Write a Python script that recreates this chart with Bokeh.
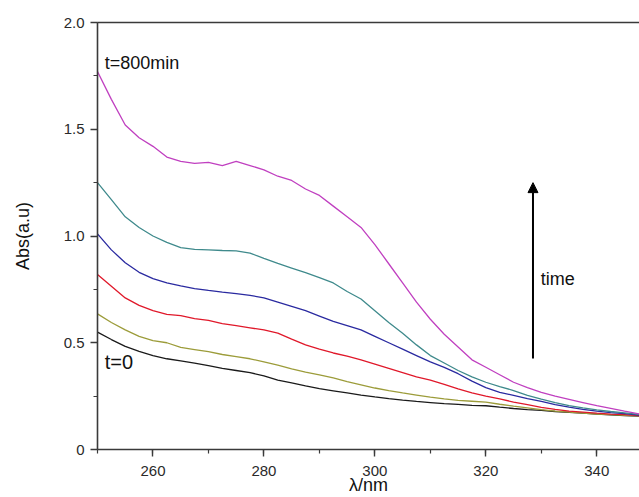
from bokeh.plotting import figure
from bokeh.models import (Range1d, SingleIntervalTicker, FixedTicker, LinearAxis,
                          Label, Arrow, NormalHead)
from bokeh.embed import file_html
from bokeh.resources import INLINE

# ---------------- data ----------------
wavelength = [250, 252.5, 255, 257.5, 260, 262.5, 265, 267.5, 270, 272.5,
              275, 277.5, 280, 282.5, 285, 287.5, 290, 292.5, 295, 297.5,
              300, 302.5, 305, 307.5, 310, 312.5, 315, 317.5, 320, 322.5,
              325, 327.5, 330, 332.5, 335, 337.5, 340, 342.5, 345, 348]

abs_t0 = [0.55, 0.515, 0.483, 0.46, 0.44, 0.425, 0.415, 0.405, 0.393, 0.38,
          0.37, 0.36, 0.345, 0.325, 0.312, 0.298, 0.285, 0.275, 0.265, 0.255,
          0.246, 0.238, 0.231, 0.225, 0.22, 0.215, 0.211, 0.207, 0.205, 0.198,
          0.192, 0.187, 0.183, 0.178, 0.174, 0.17, 0.166, 0.162, 0.159, 0.156]

abs_t1 = [0.635, 0.595, 0.56, 0.53, 0.51, 0.50, 0.478, 0.468, 0.458, 0.445,
          0.435, 0.425, 0.41, 0.395, 0.378, 0.362, 0.35, 0.335, 0.318, 0.303,
          0.288, 0.276, 0.265, 0.255, 0.245, 0.237, 0.23, 0.226, 0.222, 0.212,
          0.203, 0.195, 0.187, 0.18, 0.175, 0.17, 0.166, 0.163, 0.16, 0.157]

abs_t2 = [0.82, 0.765, 0.71, 0.675, 0.65, 0.633, 0.627, 0.613, 0.605, 0.59,
          0.58, 0.57, 0.56, 0.545, 0.517, 0.49, 0.47, 0.452, 0.437, 0.42,
          0.40, 0.38, 0.36, 0.34, 0.325, 0.305, 0.284, 0.265, 0.25, 0.237,
          0.222, 0.21, 0.197, 0.188, 0.18, 0.175, 0.17, 0.166, 0.163, 0.158]

abs_t3 = [1.01, 0.935, 0.875, 0.83, 0.80, 0.78, 0.766, 0.754, 0.745, 0.737,
          0.73, 0.722, 0.71, 0.69, 0.67, 0.65, 0.625, 0.60, 0.58, 0.56,
          0.53, 0.50, 0.47, 0.44, 0.41, 0.385, 0.355, 0.32, 0.29, 0.268,
          0.253, 0.238, 0.225, 0.21, 0.198, 0.188, 0.18, 0.173, 0.168, 0.16]

abs_t4 = [1.25, 1.17, 1.09, 1.04, 1.0, 0.97, 0.946, 0.937, 0.935, 0.932,
          0.93, 0.92, 0.895, 0.872, 0.85, 0.828, 0.805, 0.78, 0.74, 0.705,
          0.65, 0.595, 0.545, 0.49, 0.44, 0.405, 0.37, 0.34, 0.315, 0.295,
          0.276, 0.253, 0.236, 0.22, 0.205, 0.195, 0.186, 0.178, 0.172, 0.163]

abs_t800 = [1.77, 1.64, 1.52, 1.46, 1.42, 1.37, 1.35, 1.34, 1.345, 1.33,
            1.35, 1.33, 1.31, 1.28, 1.26, 1.22, 1.19, 1.14, 1.09, 1.04,
            0.96, 0.87, 0.78, 0.69, 0.61, 0.54, 0.48, 0.42, 0.385, 0.35,
            0.315, 0.29, 0.268, 0.25, 0.235, 0.22, 0.205, 0.193, 0.18, 0.165]

series = [abs_t0, abs_t1, abs_t2, abs_t3, abs_t4, abs_t800]
colors = ["#1a1a1a", "#9c9c3a", "#e0182a", "#2a2aa0", "#3f8a8c", "#c040c0"]

y_tick_labels = {0: "0", 0.5: "0.5", 1: "1.0", 1.5: "1.5", 2: "2.0"}
x_label = "λ/nm"
y_label = "Abs(a.u)"

FONT = "Liberation Sans"

p = figure(width=639, height=497, output_backend="svg", toolbar_location=None,
           x_range=Range1d(250, 347.7), y_range=Range1d(0, 2.0),
           min_border_left=97, min_border_right=0, min_border_top=22,
           min_border_bottom=48)
p.outline_line_color = None
p.xgrid.visible = False
p.ygrid.visible = False
p.background_fill_color = "white"
p.border_fill_color = "white"

for ys, c in zip(series, colors):
    p.line(wavelength, ys, line_color=c, line_width=1.3)

# axes styling
for ax in (p.xaxis[0], p.yaxis[0]):
    ax.axis_line_color = "#3a3a3a"
    ax.axis_line_width = 1.6
    ax.major_tick_line_color = "#3a3a3a"
    ax.minor_tick_line_color = "#3a3a3a"
    ax.major_tick_line_width = 1.4
    ax.minor_tick_line_width = 1.2
    ax.major_tick_in = 0
    ax.major_tick_out = 7
    ax.minor_tick_in = 0
    ax.minor_tick_out = 4
    ax.major_label_text_font = FONT
    ax.major_label_text_font_size = "15px"
    ax.major_label_text_color = "#2a2a2a"
    ax.axis_label_text_font = FONT
    ax.axis_label_text_font_size = "18px"
    ax.axis_label_text_font_style = "normal"
    ax.axis_label_text_color = "#111111"

p.xaxis[0].ticker = SingleIntervalTicker(interval=20, num_minor_ticks=2)
p.yaxis[0].ticker = SingleIntervalTicker(interval=0.5, num_minor_ticks=2)
p.yaxis[0].major_label_overrides = y_tick_labels
p.xaxis[0].axis_label = x_label
p.yaxis[0].axis_label = y_label
p.xaxis[0].major_label_standoff = 9
p.xaxis[0].axis_label_standoff = -4
p.yaxis[0].major_label_standoff = 6
p.yaxis[0].axis_label_standoff = 28

# top frame line (no ticks, no labels)
top = LinearAxis(ticker=FixedTicker(ticks=[]), axis_line_color="#3a3a3a",
                 axis_line_width=1.6, major_tick_out=0, major_tick_in=0,
                 minor_tick_out=0, minor_tick_in=0, major_label_standoff=0)
p.add_layout(top, "above")

# annotations
p.add_layout(Label(x=251.3, y=1.81, text="t=800min", text_font=FONT,
                   text_font_size="18px", text_color="#111111",
                   text_baseline="middle"))
p.add_layout(Label(x=251.3, y=0.41, text="t=0", text_font=FONT,
                   text_font_size="20px", text_color="#111111",
                   text_baseline="middle"))
p.add_layout(Label(x=329.9, y=0.80, text="time", text_font=FONT,
                   text_font_size="18px", text_color="#111111",
                   text_baseline="middle"))
p.add_layout(Arrow(x_start=328.5, y_start=0.426, x_end=328.5, y_end=1.25,
                   line_color="black", line_width=2,
                   end=NormalHead(size=10, fill_color="black",
                                  line_color="black")))

open("out.html", "w").write(file_html(p, INLINE))
